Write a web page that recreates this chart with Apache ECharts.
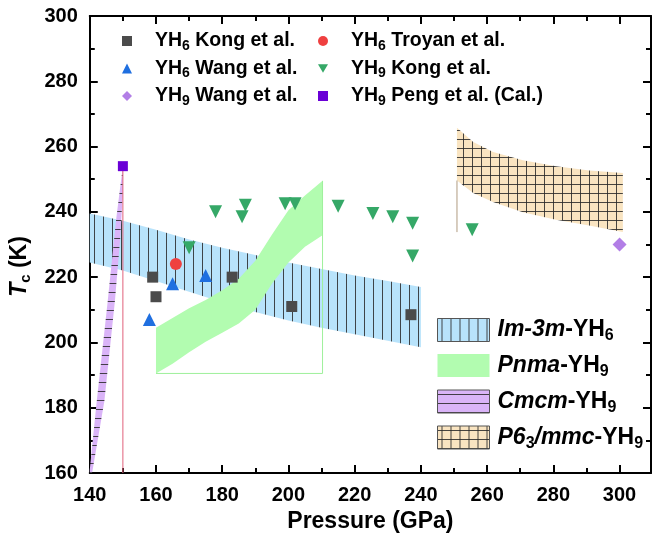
<!DOCTYPE html>
<html><head><meta charset="utf-8">
<script src="https://cdn.jsdelivr.net/npm/echarts@6/dist/echarts.min.js"></script>
<style>html,body{margin:0;padding:0;background:#fff}#c{width:654px;height:538px}</style>
</head><body><div id="c"></div>
<script>
// ---------- data ----------
const kongYH6   = [[159,220],[160,214],[183,220],[201,211],[237,208.5]];
const troyanYH6 = [[166,224]];
const wangYH6   = [[158,207],[165,218],[175,220.5]];
const kongYH9   = [[170,229],[178,240],[186,238.5],[187,242],[199,242.5],[202,242.5],[215,241.7],[225.5,239.5],[231.5,238.5],[237.5,236.5],[237.5,226.5],[255.5,234.5]];
const wangYH9   = [[300,230]];
const pengYH9   = [[150,254]];

const im3mP     = [140,150,160,170,180,190,200,210,220,230,240];
const im3mUpper = [239.5,237.3,234.5,231.5,229,226.8,224.5,222.5,220.5,218.8,217];
const im3mLower = [224.5,222,218.8,215.5,212.3,209.3,206.7,204.5,202.5,200.5,198.5];

const pnmaP     = [160,165,170,175,180,185,190,195,200,205,210.3];
const pnmaUpper = [204.5,207.5,210.5,213,216,219.5,225,233,240.5,245,249.5];
const pnmaLower = [190.5,193.5,197,200.2,203,205.8,210,218,224.5,229.3,232.8];
const pnmaEdge  = [[160,190.5],[210.3,190.5],[210.3,249.5]];

const cmcmUpper = [[140,161],[142,181],[145.4,212.5],[148,238],[150,254]];
const cmcmLower = [[140,160],[140.7,160],[144.4,182],[147.6,212.8],[149.2,232],[150,246]];
const cmcmEdge  = [[150,160],[150,254]];

const p63P      = [250.9,255.8,261.8,270.8,280.8,290.8,301];
const p63Upper  = [265.8,261.4,258.3,255.8,254,252.7,251.9];
const p63Lower  = [249.6,245.8,243,239.9,237.6,235.8,233.8];
const p63Edge   = [[250.9,249.6],[250.9,233.8]];

const xTicks = {min:140, max:309.5, interval:20};
const yTicks = {min:160, max:300, interval:20};

// ---------- style ----------
const FF = '"Liberation Sans", Arial, sans-serif';
function makePattern(bg, v, h) {
  const c = document.createElement('canvas'); c.width = 9; c.height = 9;
  const g = c.getContext('2d'); g.fillStyle = bg; g.fillRect(0,0,9,9);
  g.fillStyle = 'rgba(40,40,40,0.85)';
  if (v) g.fillRect(4,0,1,9);
  if (h) g.fillRect(0,4,9,1);
  return {image: c, repeat: 'repeat'};
}
const patIm3m = makePattern('#b8e3fb', true, false);
const patCmcm = makePattern('#dab4f8', false, true);
const patP63  = makePattern('#f9e4c1', true, true);
const colPnma = '#b2fcb0';

function polySeries(name, pts, fill, z) {
  return {
    name, type: 'custom', clip: true, z,
    itemStyle: {color: fill},
    data: pts,
    encode: {x: 0, y: 1},
    renderItem: function (params, api) {
      if (params.dataIndex !== 0) return null;
      return {type: 'polygon', shape: {points: pts.map(p => api.coord(p))},
              style: {fill: fill, stroke: null}};
    }
  };
}
function bandPts(xs, up, lo) {
  const a = xs.map((x,i)=>[x, up[i]]);
  for (let i = xs.length-1; i >= 0; i--) a.push([xs[i], lo[i]]);
  return a;
}
const cmcmPts = cmcmUpper.concat(cmcmLower.slice().reverse());

function scatter(name, data, symbol, size, color, rot) {
  return {name, type:'scatter', data, symbol, symbolSize:size, symbolRotate: rot||0,
          itemStyle:{color, opacity:1}, z: 10};
}
function edge(data, color) {
  return {type:'line', data, symbol:'none', lineStyle:{color, width:1}, z: 3, silent:true};
}

const legendRich = {
  b: {fontFamily: FF, fontSize: 19.5, fontWeight: 'bold', color: '#000', lineHeight: 24},
  s: {fontFamily: FF, fontSize: 14, fontWeight: 'bold', color: '#000', lineHeight: 14, verticalAlign: 'bottom'}
};
const topNames = {
  'YH6 Kong et al.': '{b|YH}{s|6}{b| Kong et al.}',
  'YH6 Troyan et al.': '{b|YH}{s|6}{b| Troyan et al.}',
  'YH6 Wang et al.': '{b|YH}{s|6}{b| Wang et al.}',
  'YH9 Kong et al.': '{b|YH}{s|9}{b| Kong et al.}',
  'YH9 Wang et al.': '{b|YH}{s|9}{b| Wang et al.}',
  'YH9 Peng et al. (Cal.)': '{b|YH}{s|9}{b| Peng et al. (Cal.)}'
};
const botRich = {
  i: {fontFamily: FF, fontSize: 23, fontWeight: 'bold', fontStyle: 'italic', color: '#000', lineHeight: 28},
  b: {fontFamily: FF, fontSize: 23, fontWeight: 'bold', color: '#000', lineHeight: 28},
  s: {fontFamily: FF, fontSize: 16, fontWeight: 'bold', color: '#000', lineHeight: 16, verticalAlign: 'bottom'},
  si: {fontFamily: FF, fontSize: 16, fontWeight: 'bold', color: '#000', lineHeight: 16, verticalAlign: 'bottom'}
};
const botNames = {
  'Im-3m-YH6': '{i|Im-3m}{b|-YH}{s|6}',
  'Pnma-YH9': '{i|Pnma}{b|-YH}{s|9}',
  'Cmcm-YH9': '{i|Cmcm}{b|-YH}{s|9}',
  'P63/mmc-YH9': '{i|P6}{si|3}{i|/mmc}{b|-YH}{s|9}'
};

function axisCommon(show, extra) {
  return Object.assign({
    type: 'value',
    axisLine: {show: true, onZero: false, lineStyle: {color: '#000', width: 2}},
    axisTick: {show: true, inside: true, length: 8, lineStyle: {color: '#000', width: 2}},
    minorTick: {show: true, splitNumber: 2, length: 5, lineStyle: {color: '#000', width: 2}},
    splitLine: {show: false},
    axisLabel: {show: show, fontFamily: FF, fontSize: 20, fontWeight: 'bold', color: '#000', margin: 12,
                formatter: v => (v % 20 === 0 ? String(v) : '')}
  }, extra);
}

const chart = echarts.init(document.getElementById('c'), null, {renderer: 'canvas'});
chart.setOption({
  animation: false,
  backgroundColor: '#fff',
  grid: {left: 88, top: 16, width: 567, height: 457, containLabel: false},
  xAxis: [
    axisCommon(true, Object.assign({position: 'bottom', name: 'Pressure (GPa)', nameLocation: 'middle', nameGap: 37,
      nameTextStyle: {fontFamily: FF, fontSize: 23, fontWeight: 'bold', color: '#000'}}, xTicks)),
    axisCommon(false, Object.assign({position: 'top'}, xTicks))
  ],
  yAxis: [
    axisCommon(true, Object.assign({position: 'left', name: '{it|T}{sub|c}{n| (K)}', nameLocation: 'middle', nameGap: 42,
      nameTextStyle: {padding: [0, 44, 0, 0], rich: {
        it: {fontFamily: FF, fontSize: 23, fontWeight: 'bold', fontStyle: 'italic', color: '#000', lineHeight: 28},
        sub: {fontFamily: FF, fontSize: 15, fontWeight: 'bold', color: '#000', lineHeight: 15, verticalAlign: 'bottom'},
        n: {fontFamily: FF, fontSize: 23, fontWeight: 'bold', color: '#000', lineHeight: 28}
      }}}, yTicks)),
    axisCommon(false, Object.assign({position: 'right'}, yTicks))
  ],
  legend: [
    {orient: 'vertical', left: 122, top: 31, padding: 0, itemWidth: 10, itemHeight: 10, itemGap: 5.5,
     data: [{name: 'YH6 Kong et al.'}, {name: 'YH6 Wang et al.'}, {name: 'YH9 Wang et al.'}],
     formatter: n => topNames[n], textStyle: {rich: legendRich, padding: [0,0,0,18]}, selectedMode: false},
    {orient: 'vertical', left: 318, top: 31, padding: 0, itemWidth: 10, itemHeight: 10, itemGap: 5.5,
     data: [{name: 'YH6 Troyan et al.'}, {name: 'YH9 Kong et al.', icon: 'path://M0,0L12,0L6,10Z'}, {name: 'YH9 Peng et al. (Cal.)'}],
     formatter: n => topNames[n], textStyle: {rich: legendRich, padding: [0,0,0,18]}, selectedMode: false},
    {orient: 'vertical', left: 437, top: 318, padding: 0, itemWidth: 52, itemHeight: 23, itemGap: 10,
     icon: 'rect',
     itemStyle: {borderColor: '#555', borderWidth: 1},
     data: [
       {name: 'Im-3m-YH6', itemStyle: {color: patIm3m}},
       {name: 'Pnma-YH9', itemStyle: {color: colPnma, borderWidth: 0}},
       {name: 'Cmcm-YH9', itemStyle: {color: patCmcm}},
       {name: 'P63/mmc-YH9', itemStyle: {color: patP63}}
     ],
     formatter: n => botNames[n], textStyle: {rich: botRich, padding: [0,0,0,3]}, selectedMode: false}
  ],
  series: [
    polySeries('Im-3m-YH6', bandPts(im3mP, im3mUpper, im3mLower), patIm3m, 1),
    polySeries('Pnma-YH9', bandPts(pnmaP, pnmaUpper, pnmaLower), colPnma, 2),
    polySeries('Cmcm-YH9', cmcmPts, patCmcm, 2),
    polySeries('P63/mmc-YH9', bandPts(p63P, p63Upper, p63Lower), patP63, 2),
    edge(pnmaEdge, '#9ef09b'),
    edge(cmcmEdge, '#e0607a'),
    edge(p63Edge, '#b09c80'),
    scatter('YH6 Kong et al.', kongYH6, 'rect', 11, '#4b4b4b'),
    scatter('YH6 Troyan et al.', troyanYH6, 'circle', 12, '#ef4040'),
    scatter('YH6 Wang et al.', wangYH6, 'triangle', 13, '#1f6fe0'),
    scatter('YH9 Kong et al.', kongYH9, 'triangle', 13, '#35a867', 180),
    scatter('YH9 Wang et al.', wangYH9, 'diamond', 14, '#b27ee6'),
    scatter('YH9 Peng et al. (Cal.)', pengYH9, 'rect', 10, '#6a00d6')
  ]
});
</script></body></html>
